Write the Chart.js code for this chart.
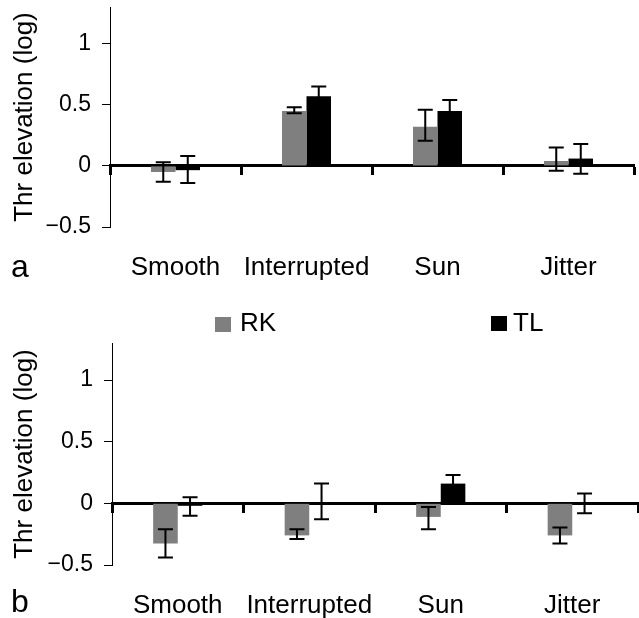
<!DOCTYPE html>
<html><head><meta charset="utf-8">
<script src="https://cdn.jsdelivr.net/npm/chart.js@4.4.1/dist/chart.umd.min.js"></script>
<style>
body{margin:0;background:#fff;width:639px;height:618px;overflow:hidden;position:relative;font-family:'Liberation Sans',Arial,sans-serif;}
canvas{position:absolute;left:0;}
#ca{top:0}
#cb{top:300px}
.panel{position:absolute;font-size:32px;line-height:32px;color:#000;}
.leg{position:absolute;font-size:26px;line-height:26px;color:#000;white-space:nowrap;}
.sw{position:absolute;width:16px;height:15px;}
</style></head><body>
<canvas id="ca" width="639" height="300"></canvas>
<canvas id="cb" width="639" height="318"></canvas>
<div class="panel" style="left:11px;top:250px">a</div>
<div class="panel" style="left:11px;top:585px">b</div>
<div class="sw" id="sw0" style="left:215px;top:317px;"></div>
<div class="leg" id="lg0" style="left:240px;top:309px"></div>
<div class="sw" id="sw1" style="left:491px;top:316px;"></div>
<div class="leg" id="lg1" style="left:513px;top:309px"></div>
<script>
const categories = ['Smooth', 'Interrupted', 'Sun', 'Jitter'];
const seriesNames = ['RK', 'TL'];
const seriesColors = ['#7f7f7f', '#000000'];
// panel a
const rkA    = [-0.05, 0.45, 0.32, 0.04];
const rkA_lo = [-0.13, 0.43, 0.205, -0.04];
const rkA_hi = [0.03, 0.48, 0.46, 0.15];
const tlA    = [-0.035, 0.57, 0.45, 0.06];
const tlA_lo = [-0.14, 0.49, 0.37, -0.065];
const tlA_hi = [0.08, 0.65, 0.54, 0.18];
// panel b
const rkB    = [-0.325, -0.26, -0.11, -0.26];
const rkB_lo = [-0.44, -0.29, -0.21, -0.325];
const rkB_hi = [-0.21, -0.21, -0.03, -0.195];
const tlB    = [-0.02, 0.01, 0.16, 0.0];
const tlB_lo = [-0.10, -0.13, 0.09, -0.08];
const tlB_hi = [0.05, 0.16, 0.23, 0.08];
// axis
const yTickValues = [-0.5, 0, 0.5, 1];
const yTickLabels = ['\u22120.5', '0', '0.5', '1'];
const yMin = -0.5, yMax = 1.3;
const yTitle = 'Thr elevation (log)';

const FAM = "'Liberation Sans', Arial, Helvetica, sans-serif";

const errorBars = {
  id: 'errorBars',
  afterDatasetsDraw(chart) {
    const ctx = chart.ctx, y = chart.scales.y;
    chart.data.datasets.forEach((ds, i) => {
      const meta = chart.getDatasetMeta(i);
      meta.data.forEach((bar, j) => {
        const lo = y.getPixelForValue(ds.errLow[j]);
        const hi = y.getPixelForValue(ds.errHigh[j]);
        ctx.save();
        ctx.strokeStyle = '#000';
        ctx.lineWidth = 2;
        ctx.beginPath();
        ctx.moveTo(bar.x, lo); ctx.lineTo(bar.x, hi);
        ctx.moveTo(bar.x - 7.5, lo); ctx.lineTo(bar.x + 7.5, lo);
        ctx.moveTo(bar.x - 7.5, hi); ctx.lineTo(bar.x + 7.5, hi);
        ctx.stroke();
        ctx.restore();
      });
    });
  }
};

function makeChart(id, rk, rkLo, rkHi, tl, tlLo, tlHi, axisW, pad) {
  return new Chart(document.getElementById(id), {
    type: 'bar',
    data: {
      labels: categories,
      datasets: [
        { label: seriesNames[0], data: rk, errLow: rkLo, errHigh: rkHi, backgroundColor: seriesColors[0],
          borderWidth: 0, categoryPercentage: 0.374, barPercentage: 1.0 },
        { label: seriesNames[1], data: tl, errLow: tlLo, errHigh: tlHi, backgroundColor: seriesColors[1],
          borderWidth: 0, categoryPercentage: 0.374, barPercentage: 1.0 }
      ]
    },
    options: {
      responsive: false,
      devicePixelRatio: 1,
      animation: false,
      layout: { padding: pad },
      plugins: { legend: { display: false }, tooltip: { enabled: false } },
      scales: {
        x: {
          type: 'category', offset: true,
          grid: { display: false, drawTicks: false },
          border: { display: false },
          afterFit: s => { s.height = 53; s.paddingLeft = 0; s.paddingRight = 0; },
          ticks: { color: '#000', font: { size: 26, family: FAM }, padding: 25, maxRotation: 0, autoSkip: false }
        },
        x2: {
          type: 'category', labels: categories, offset: true, position: { y: 0 }, z: 1,
          afterFit: s => { s.height = 0; s.paddingLeft = 0; s.paddingRight = 0; },
          grid: { offset: true, drawOnChartArea: false, drawTicks: true, tickLength: 8, tickWidth: 3, tickColor: '#000', color: '#000' },
          border: { display: true, width: 3, color: '#000' },
          ticks: { display: false }
        },
        y: {
          min: yMin, max: yMax,
          afterBuildTicks: s => { s.ticks = yTickValues.map(v => ({ value: v })); },
          afterFit: s => { s.width = axisW; s.paddingTop = 0; s.paddingBottom = 0; },
          ticks: { color: '#000', font: { size: 23, family: FAM }, padding: 11,
                   callback: (v, i) => yTickLabels[i] },
          grid: { drawOnChartArea: false, drawTicks: true, tickLength: 8, color: '#000', lineWidth: 1 },
          border: { display: true, color: '#000', width: 1 },
          title: { display: true, text: yTitle, color: '#000', font: { size: 26, family: FAM }, padding: { top: 9, bottom: 0 } }
        }
      }
    },
    plugins: [errorBars]
  });
}

makeChart('ca', rkA, rkA_lo, rkA_hi, tlA, tlA_lo, tlA_hi, 110, { top: 7, right: 5, bottom: 20, left: 0 });
makeChart('cb', rkB, rkB_lo, rkB_hi, tlB, tlB_lo, tlB_hi, 112, { top: 43, right: 1, bottom: 0, left: 0 });

seriesNames.forEach((n, i) => {
  document.getElementById('lg' + i).textContent = n;
  document.getElementById('sw' + i).style.background = seriesColors[i];
});
</script>
</body></html>
